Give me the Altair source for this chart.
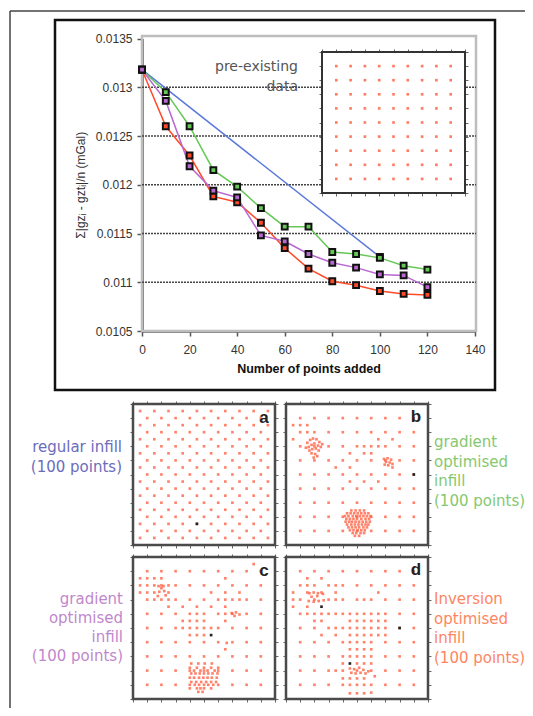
import altair as alt
import pandas as pd

# ---------------- data ----------------
points_added = [0, 10, 20, 30, 40, 50, 60, 70, 80, 90, 100, 110, 120]
regular_added = [0, 100]
regular_misfit = [0.01318, 0.01126]
gradient_green = [0.01318, 0.01295, 0.01260, 0.01215, 0.01198, 0.01176, 0.01157,
                  0.01157, 0.01131, 0.01129, 0.01125, 0.01117, 0.01113]
gradient_purple = [0.01318, 0.01286, 0.01219, 0.01194, 0.01187, 0.01148, 0.01142,
                   0.01129, 0.01120, 0.01115, 0.01108, 0.01107, 0.01095]
inversion_red = [0.01318, 0.01260, 0.01230, 0.01188, 0.01182, 0.01161, 0.01135,
                 0.01114, 0.01101, 0.01097, 0.01091, 0.01088, 0.01087]

y_ticks = [0.0105, 0.011, 0.0115, 0.012, 0.0125, 0.013, 0.0135]
x_ticks = [0, 20, 40, 60, 80, 100, 120, 140]
grid_levels = [0.011, 0.0115, 0.012, 0.0125, 0.013]
panel_ticks = [0, 2, 4, 6, 8, 10, 12, 14, 16, 18, 20]

existing_pos = [2, 4, 6, 8, 10, 12, 14, 16, 18]
regular_infill_pos = [1, 3, 5, 7, 9, 11, 13, 15, 17, 19]

panel_b_points = [
    (1, 17), (2, 17), (3, 17), (3, 16), (1, 15),
    (3.0, 14.5), (3.4, 14.9), (3.8, 15.1), (4.3, 15.0), (4.7, 14.6), (3.2, 13.9),
    (3.6, 14.2), (4.0, 14.4), (4.5, 14.1), (4.9, 13.9), (3.3, 13.4), (3.7, 13.6),
    (4.2, 13.7), (4.6, 13.4), (3.6, 13.0), (4.1, 12.9), (4.4, 12.6), (3.9, 12.4),
    (2.8, 13.8), (5.1, 14.3),
    (13, 15), (15, 15), (11, 14), (13, 14), (9, 13), (11, 13), (12, 13),
    (13.8, 12.2), (14.3, 12.3), (14.8, 12.1), (14.1, 11.8), (14.6, 11.7),
    (14.4, 11.3), (13.9, 11.4), (15.0, 11.5),
    (7, 11), (9, 11), (15, 11), (9, 9), (11, 9), (13, 9),
]
panel_b_cluster_rows = [
    (4.9, [9.2, 9.8, 10.4, 11.0]),
    (4.5, [8.6, 9.1, 9.6, 10.1, 10.6, 11.1, 11.6]),
    (4.1, [8.3, 8.8, 9.4, 9.9, 10.4, 10.9, 11.4, 11.9]),
    (3.7, [8.5, 9.0, 9.5, 10.0, 10.6, 11.2, 11.7]),
    (3.3, [8.4, 8.9, 9.3, 9.8, 10.3, 10.8, 11.3, 11.8]),
    (2.9, [8.6, 9.2, 9.7, 10.2, 10.7, 11.2, 11.6]),
    (2.5, [8.8, 9.3, 9.8, 10.3, 10.9, 11.4]),
    (2.1, [9.0, 9.5, 10.1, 10.6, 11.1]),
    (1.7, [9.4, 9.9, 10.5, 11.0]),
    (1.3, [9.7, 10.3]),
]
panel_c_points = [
    (17, 19), (1, 17), (2, 17), (3, 17), (4, 17), (13, 17),
    (1, 16), (3, 16), (5, 16),
    (1, 15), (2, 15), (3, 15), (5, 15), (11, 15), (13, 15), (15, 15),
    (3.6, 15.9), (4.0, 15.6), (4.4, 15.2), (4.3, 15.9), (3.7, 15.1), (3.5, 14.5), (4.6, 14.6),
    (3, 14), (5, 14), (13, 14), (15, 14),
    (5, 13), (7, 13), (9, 13), (11, 13), (13, 13),
    (9, 12), (13, 12), (13.9, 12.1), (14.5, 12.2), (15.0, 11.9), (14.3, 11.7),
    (7, 11), (8, 11), (9, 11), (10, 11), (13, 11),
    (7, 10), (9, 10), (11, 10),
    (8, 9), (9, 9), (10, 9), (13.2, 7.9), (13, 7),
]
panel_c_cluster_rows = [
    (5.0, [8.2, 9.2, 10.1, 11.1]),
    (4.4, [8.0, 9.0, 10.0, 11.0, 12.0]),
    (4.0, [8.6, 9.5, 10.5, 11.5]),
    (3.6, [8.2, 8.8, 9.4, 10.0, 10.6, 11.2, 11.9]),
    (3.0, [8.0, 8.6, 9.3, 9.9, 10.5, 11.1, 11.8]),
    (2.4, [8.2, 8.9, 9.6, 10.3, 11.0, 11.7]),
    (2.0, [8.7, 9.3, 10.6, 11.3]),
    (1.5, [8.0, 9.0, 9.5, 10.0, 11.0]),
    (1.0, [9.2, 9.8]),
]
panel_d_points = [
    (3, 17), (5, 17), (3, 16), (7, 16),
    (1, 15), (3, 15), (5, 15), (7, 15), (13, 15),
    (3.3, 14.9), (3.9, 15.0), (4.5, 14.9), (5.2, 14.8), (3.6, 14.4), (4.4, 14.5),
    (3.2, 13.8), (3.9, 13.7), (4.6, 13.8), (5.3, 13.9),
    (1, 14), (7, 14), (11, 14),
    (1, 13), (3, 13),
    (3, 12), (5, 12), (7, 12), (9, 12), (11, 12), (13, 12),
    (4, 11), (5, 11), (9, 11), (10, 11), (11, 11), (12, 11), (13, 11), (14, 11),
    (7, 10), (9, 10), (11, 10), (13, 10),
    (5, 9), (7, 9), (9, 9), (10, 9), (11, 9), (12, 9), (13, 9), (14, 9),
    (9, 8), (11, 8), (9, 7), (10, 7), (11, 7), (12, 7), (9, 6), (11, 6),
    (8, 5), (10, 5), (11, 5), (12, 5),
    (7, 4), (9, 4.3), (9.6, 4.2), (10.3, 4.4), (10.9, 4.1),
    (9.2, 3.7), (9.8, 3.6), (10.5, 3.7), (11.2, 3.6), (11.6, 3.9),
    (8, 2.9), (9, 2.9), (10, 2.9), (11, 2.9), (12.5, 3.2),
    (9, 2), (11, 2), (9, 0.8), (10, 0.8), (11, 0.8), (12, 0.9),
]
black_points = {
    "a": [(9, 3)],
    "b": [(18, 10)],
    "c": [(11, 9)],
    "d": [(5, 13), (16, 10), (9, 5)],
}

# ---------------- layout (chart pixel coordinates) ----------------
W, H = 517, 700
MAIN_XR = [134, 467]
MAIN_YR = [323, 30.5]
INSET_XR = [314, 457]
INSET_YR = [185, 44]
PANELS = {
    "a": ([125, 267], [537, 396]),
    "b": ([278, 420], [537, 396]),
    "c": ([125, 267], [691, 549]),
    "d": ([278, 420], [691, 549]),
}

BLUE, GREEN, PURPLE, RED = "#5a78d8", "#66c855", "#b868d0", "#ff4a2a"
DOT = "#ff5a3a"
FONT = "Liberation Sans"
one = pd.DataFrame({"k": [0]})


def sc(dom, rng):
    return alt.Scale(domain=dom, range=rng, nice=False, zero=False)


def xy_df(pairs):
    return pd.DataFrame({"x": [p[0] for p in pairs], "y": [p[1] for p in pairs]})


def rows_to_pairs(rows):
    return [(x, y) for y, xs in rows for x in xs]


existing = [(x, y) for x in existing_pos for y in existing_pos]
regular = [(x, y) for x in regular_infill_pos for y in regular_infill_pos]
panel_points = {
    "a": existing + regular,
    "b": existing + panel_b_points + rows_to_pairs(panel_b_cluster_rows),
    "c": existing + panel_c_points + rows_to_pairs(panel_c_cluster_rows),
    "d": existing + panel_d_points,
}

layers = []

# outer figure frame and box around the top chart
layers.append(alt.Chart(one).mark_rule(color="#444", strokeWidth=1.5).encode(
    x=alt.value(2), y=alt.value(3), y2=alt.value(700)))
layers.append(alt.Chart(one).mark_rule(color="#444", strokeWidth=1.5).encode(
    x=alt.value(2), x2=alt.value(517), y=alt.value(3)))
layers.append(alt.Chart(one).mark_rect(fillOpacity=0, stroke="#111", strokeWidth=2.5).encode(
    x=alt.value(47), x2=alt.value(487), y=alt.value(12), y2=alt.value(382)))
# grey plot-area border
layers.append(alt.Chart(one).mark_rect(fillOpacity=0, stroke="#bdbdbd", strokeWidth=2.5).encode(
    x=alt.value(134), x2=alt.value(468), y=alt.value(28), y2=alt.value(323)))

mx = sc([0, 140], MAIN_XR)
my = sc([0.0105, 0.0135], MAIN_YR)

# dotted gridlines
layers.append(alt.Chart(pd.DataFrame({"v": grid_levels})).mark_rule(
    color="#444", strokeDash=[2, 1], strokeWidth=1.6).encode(
    y=alt.Y("v:Q", scale=my, axis=None), x=alt.value(134), x2=alt.value(468)))

# inset with pre-existing data
isx = sc([0, 20], INSET_XR)
isy = sc([0, 20], INSET_YR)
frame_df = pd.DataFrame({"x0": [0], "x1": [20], "y0": [0], "y1": [20]})
tick_axis = dict(labels=False, domain=False, grid=False, tickSize=3, tickColor="#666", values=panel_ticks, title=None)
layers.append(alt.Chart(frame_df).mark_rect(fill="white", stroke="#333", strokeWidth=2).encode(
    x=alt.X("x0:Q", scale=isx, axis=alt.Axis(orient="top", offset=-INSET_YR[1], **tick_axis)),
    x2="x1:Q",
    y=alt.Y("y0:Q", scale=isy, axis=alt.Axis(orient="right", offset=INSET_XR[1] - W, **tick_axis)),
    y2="y1:Q"))
layers.append(alt.Chart(xy_df(existing)).mark_square(size=7, color=DOT, opacity=0.8).encode(
    x=alt.X("x:Q", scale=isx, axis=alt.Axis(orient="bottom", offset=INSET_YR[0] - H, **tick_axis)),
    y=alt.Y("y:Q", scale=isy, axis=alt.Axis(orient="left", offset=-INSET_XR[0], **tick_axis))))

layers.append(alt.Chart(pd.DataFrame({"t": ["pre-existing", "data"], "yy": [59, 79]})).mark_text(
    align="right", baseline="middle", font="DejaVu Sans", fontSize=14, color="#555").encode(
    text="t:N", x=alt.value(290), y=alt.Y("yy:Q", scale=None)))

# main series
main_df = pd.DataFrame({
    "added": points_added * 3,
    "misfit": gradient_green + inversion_red + gradient_purple,
    "series": ["green"] * 13 + ["red"] * 13 + ["purple"] * 13,
})
reg_df = pd.DataFrame({"added": regular_added, "misfit": regular_misfit})

x_axis = alt.Axis(orient="bottom", offset=MAIN_YR[0] - H, values=x_ticks, title="Number of points added",
                  titleFontWeight="bold", titleFontSize=12.5, titleFont=FONT, titleColor="#111", titlePadding=7,
                  labelFont=FONT, labelFontSize=12, labelColor="#333", labelPadding=8, labelFlush=False,
                  labelOverlap=False, tickSize=5, tickColor="#555", tickWidth=1.5,
                  domainColor="#555", domainWidth=2.5, grid=False)
y_axis = alt.Axis(orient="left", offset=-MAIN_XR[0], values=y_ticks, format=".4~f",
                  title="Σ|gzᵢ - gztᵢ|/n   (mGal)", titleFont=FONT, titleFontSize=12, titleFontWeight="normal",
                  titleColor="#333", titlePadding=8,
                  labelFont=FONT, labelFontSize=12, labelColor="#333", labelPadding=5, labelFlush=False,
                  labelOverlap=False, tickSize=5, tickColor="#555", tickWidth=1.5,
                  domainColor="#555", domainWidth=2.5, grid=False)

layers.append(alt.Chart(reg_df).mark_line(color=BLUE, strokeWidth=1.5).encode(
    x=alt.X("added:Q", scale=mx, axis=x_axis), y=alt.Y("misfit:Q", scale=my, axis=y_axis)))
for name, col in [("green", GREEN), ("red", RED), ("purple", PURPLE)]:
    layers.append(alt.Chart(main_df[main_df.series == name]).mark_line(color=col, strokeWidth=1.5).encode(
        x=alt.X("added:Q", scale=mx, axis=None), y=alt.Y("misfit:Q", scale=my, axis=None)))
layers.append(alt.Chart(reg_df).mark_square(size=34, fill=BLUE, stroke="#111", strokeWidth=2, opacity=1).encode(
    x=alt.X("added:Q", scale=mx, axis=None), y=alt.Y("misfit:Q", scale=my, axis=None)))
for name, col in [("green", GREEN), ("red", RED), ("purple", PURPLE)]:
    layers.append(alt.Chart(main_df[main_df.series == name]).mark_square(
        size=34, fill=col, stroke="#111", strokeWidth=2, opacity=1).encode(
        x=alt.X("added:Q", scale=mx, axis=None), y=alt.Y("misfit:Q", scale=my, axis=None)))

# four small map panels
letter_pos = {"a": (256, 410), "b": (408, 409), "c": (256, 563), "d": (408, 562)}
for key, (xr, yr) in PANELS.items():
    psx = sc([0, 20], xr)
    psy = sc([0, 20], yr)
    layers.append(alt.Chart(frame_df).mark_rect(fillOpacity=0, stroke="#4a4a4a", strokeWidth=2.5).encode(
        x=alt.X("x0:Q", scale=psx, axis=alt.Axis(orient="top", offset=-yr[1], **tick_axis)),
        x2="x1:Q",
        y=alt.Y("y0:Q", scale=psy, axis=alt.Axis(orient="right", offset=xr[1] - W, **tick_axis)),
        y2="y1:Q"))
    layers.append(alt.Chart(xy_df(panel_points[key])).mark_square(size=7, color=DOT, opacity=0.75).encode(
        x=alt.X("x:Q", scale=psx, axis=alt.Axis(orient="bottom", offset=yr[0] - H, **tick_axis)),
        y=alt.Y("y:Q", scale=psy, axis=alt.Axis(orient="left", offset=-xr[0], **tick_axis))))
    layers.append(alt.Chart(xy_df(black_points[key])).mark_square(size=7, color="#222", opacity=1).encode(
        x=alt.X("x:Q", scale=psx, axis=None), y=alt.Y("y:Q", scale=psy, axis=None)))
    lx, ly = letter_pos[key]
    layers.append(alt.Chart(pd.DataFrame({"t": [key]})).mark_text(
        font=FONT, fontSize=17, fontWeight="bold", color="#222", align="center", baseline="middle").encode(
        text="t:N", x=alt.value(lx), y=alt.value(ly)))

# side captions
captions = [
    ("regular infill\n(100 points)", "#6c6cbc", "right", 114, 444, 20),
    ("gradient\noptimised\ninfill\n(100 points)", "#86c870", "left", 426, 439, 19.7),
    ("gradient\noptimised\ninfill\n(100 points)", "#bf88cc", "right", 115, 596, 19),
    ("Inversion\noptimised\ninfill\n(100 points)", "#ff8562", "left", 426, 596, 19.7),
]
for text, col, al, cx, cy, lh in captions:
    layers.append(alt.Chart(pd.DataFrame({"t": [text]})).mark_text(
        font="DejaVu Sans", fontSize=15, color=col, align=al, baseline="alphabetic",
        lineBreak="\n", lineHeight=lh).encode(text="t:N", x=alt.value(cx), y=alt.value(cy)))

chart = alt.layer(*layers).resolve_scale(x="independent", y="independent").properties(
    width=W, height=H, padding=0, autosize=alt.AutoSizeParams(type="none"), background="white"
).configure_view(strokeWidth=0)

chart.save("out.html", embed_options={"renderer": "svg", "actions": False})
